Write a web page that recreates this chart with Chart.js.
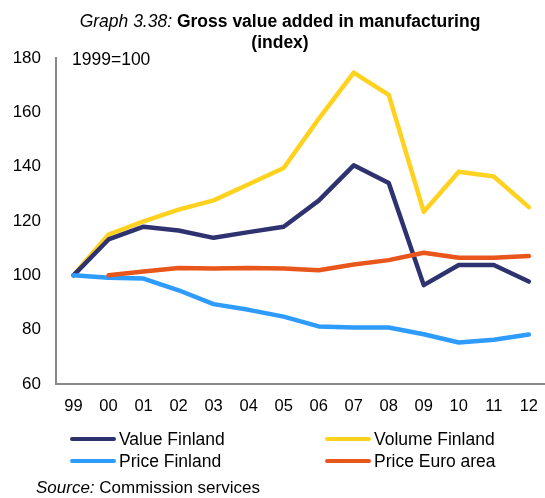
<!DOCTYPE html>
<html>
<head>
<meta charset="utf-8">
<script src="https://cdn.jsdelivr.net/npm/chart.js@4/dist/chart.umd.min.js"></script>
<style>
  html, body { margin: 0; padding: 0; background: #fff; overflow: hidden; }
  body { width: 545px; height: 498px; position: relative; font-family: "Liberation Sans", Arial, sans-serif; color: #000; }
  #wrap { position: absolute; left: 0; top: 0; width: 551px; height: 498px; }
  .title { position: absolute; left: 0; top: 11px; width: 560px; text-align: center; font-size: 17.5px; line-height: 21px; white-space: nowrap; }
  .title i { font-style: italic; font-weight: normal; }
  .title b { font-weight: bold; }
  .legend { position: absolute; left: 0; top: 0; font-size: 17.5px; }
  .item { position: absolute; display: flex; align-items: center; white-space: nowrap; height: 20px; }
  .item .swatch { width: 46px; height: 4px; border-radius: 2px; margin-right: 3px; }
  .source { position: absolute; left: 36px; top: 478px; font-size: 17px; line-height: 20px; white-space: nowrap; }
</style>
</head>
<body>
<div id="wrap"><canvas id="chart"></canvas></div>
<div class="title"><i>Graph 3.38:</i> <b>Gross value added in manufacturing</b><br><b>(index)</b></div>
<div class="legend" id="legend"></div>
<div class="source"><i>Source:</i> Commission services</div>
<script>
// values, 1999=100
const years = ["99", "00", "01", "02", "03", "04", "05", "06", "07", "08", "09", "10", "11", "12"];
const valueFinland = [100, 113.2, 117.9, 116.5, 113.8, 115.9, 117.9, 127.5, 140.5, 134, 96.4, 103.8, 103.8, 97.7];
const volumeFinland = [100, 115, 119.9, 124.2, 127.6, 133.5, 139.5, 157.6, 174.6, 166.4, 123.4, 138.1, 136.4, 125.1];
const priceFinland = [100, 99.1, 98.8, 94.5, 89.4, 87.3, 84.8, 81.2, 80.8, 80.8, 78.3, 75.3, 76.3, 78.2];
const priceEuroArea = [null, 100, 101.4, 102.7, 102.5, 102.7, 102.5, 101.9, 104, 105.6, 108.3, 106.5, 106.5, 107.1];

const seriesNames = ["Value Finland", "Volume Finland", "Price Finland", "Price Euro area"];
const seriesColors = ["#2E3370", "#FFD21F", "#2E9BFF", "#E9561B"];
const seriesData = [valueFinland, volumeFinland, priceFinland, priceEuroArea];
const drawOrder = [2, 3, 1, 0];

const baseNote = {
  id: "baseNote",
  afterDraw(chart) {
    const { ctx, chartArea } = chart;
    ctx.save();
    ctx.font = "17.5px 'Liberation Sans', Arial, sans-serif";
    ctx.fillStyle = "#000";
    ctx.textBaseline = "middle";
    ctx.fillText("1999=100", chartArea.left + 16, chartArea.top + 2);
    ctx.restore();
  }
};

const ctx = document.getElementById("chart").getContext("2d");
new Chart(ctx, {
  type: "line",
  data: {
    labels: years,
    datasets: seriesNames.map((name, i) => ({
      label: name,
      data: seriesData[i],
      borderColor: seriesColors[i],
      backgroundColor: seriesColors[i],
      borderWidth: 4.5,
      pointRadius: 0,
      tension: 0,
      borderCapStyle: "round",
      borderJoinStyle: "round",
      order: drawOrder[i]
    }))
  },
  options: {
    responsive: true,
    maintainAspectRatio: false,
    animation: false,
    layout: { padding: { top: 58, left: 0, right: 0, bottom: 0 } },
    plugins: {
      legend: { display: false },
      tooltip: { enabled: false }
    },
    scales: {
      x: {
        offset: true,
        grid: { display: false, drawTicks: false },
        border: { display: true, color: "#8a8a8a", width: 2 },
        ticks: {
          color: "#000",
          padding: 13,
          maxRotation: 0,
          autoSkip: false,
          font: { family: "'Liberation Sans', Arial, sans-serif", size: 16.5 }
        },
        afterFit(scale) { scale.height = 114; }
      },
      y: {
        min: 60,
        max: 180,
        grid: { display: false, drawTicks: false },
        border: { display: true, color: "#8a8a8a", width: 2 },
        ticks: {
          stepSize: 20,
          color: "#000",
          padding: 15,
          font: { family: "'Liberation Sans', Arial, sans-serif", size: 17 }
        },
        afterFit(scale) { scale.width = 56; }
      }
    }
  },
  plugins: [baseNote]
});

// legend in two columns, like the original
const legendPos = [[70, 429], [325, 429], [70, 451], [325, 451]];
const legend = document.getElementById("legend");
seriesNames.forEach((name, i) => {
  const item = document.createElement("div");
  item.className = "item";
  item.style.left = legendPos[i][0] + "px";
  item.style.top = legendPos[i][1] + "px";
  item.innerHTML = '<span class="swatch" style="background:' + seriesColors[i] + '"></span><span>' + name + "</span>";
  legend.appendChild(item);
});
</script>
</body>
</html>
